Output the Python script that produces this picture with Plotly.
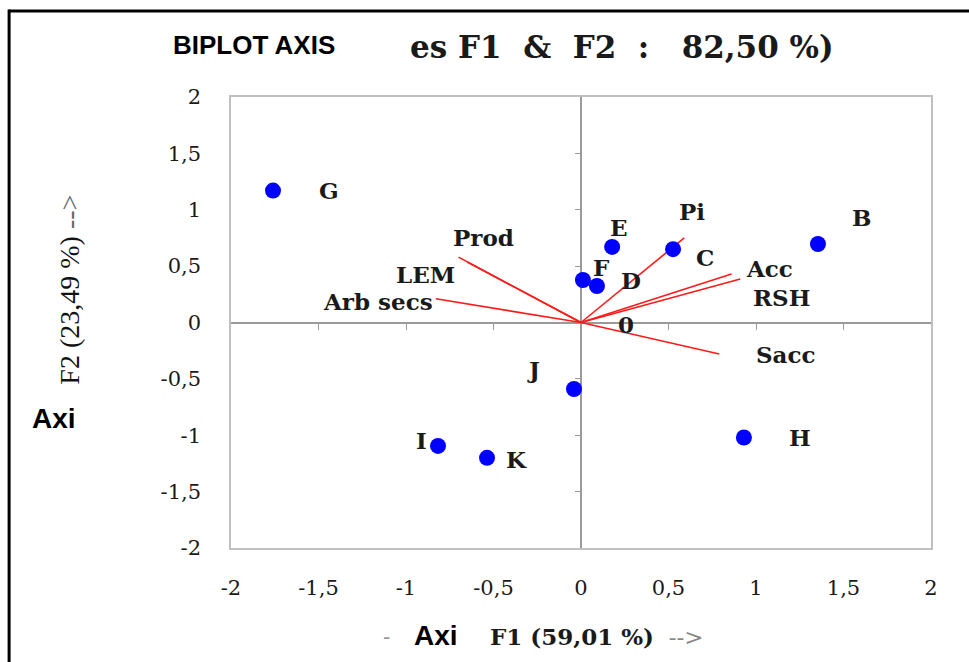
import plotly.graph_objects as go

# ---- data ----
obs_names = ["G", "E", "C", "B", "F", "D", "J", "I", "K", "H"]
obs_f1 = [-1.76, 0.178, 0.526, 1.354, 0.011, 0.091, -0.04, -0.817, -0.537, 0.931]
obs_f2 = [1.17, 0.67, 0.65, 0.696, 0.377, 0.324, -0.59, -1.095, -1.20, -1.02]

var_names = ["Prod", "LEM", "Arb secs", "Pi", "Acc", "RSH", "Sacc"]
var_f1 = [-0.70, -0.65, -0.83, 0.59, 0.86, 0.91, 0.79]
var_f2 = [0.58, 0.536, 0.21, 0.75, 0.43, 0.385, -0.28]

tick_vals = [-2, -1.5, -1, -0.5, 0, 0.5, 1, 1.5, 2]
tick_text = ["-2", "-1,5", "-1", "-0,5", "0", "0,5", "1", "1,5", "2"]
inner_tick_vals = [-1.5, -1, -0.5, 0.5, 1, 1.5]

# label offsets in pixels (style)
obs_label_shift = {
    "G": (56, 0, "center"), "E": (7, 19, "center"), "C": (32, -8, "center"),
    "B": (44, 27, "center"), "F": (19, 12, "center"), "D": (34, 5, "center"),
    "J": (-41, 20, "center"), "I": (-17, 5, "center"), "K": (29, -2, "center"),
    "H": (56, 0, "center"),
}
var_label_shift = {
    "Prod": (25, 20, "center"), "LEM": (-42, -12, "center"),
    "Arb secs": (-2, -3, "right"), "Pi": (8, 26, "center"),
    "Acc": (13, 6, "left"), "RSH": (12, -18, "left"), "Sacc": (36, 0, "left"),
}

SERIF = "DejaVu Serif"
SANS = "Liberation Sans, Arial, sans-serif"
NB = "\u00a0"

fig = go.Figure()

# variable vectors
vx, vy = [], []
for a, b in zip(var_f1, var_f2):
    vx += [0, a, None]
    vy += [0, b, None]
fig.add_trace(go.Scatter(x=vx, y=vy, mode="lines",
                         line=dict(color="#ff1a1a", width=1.6),
                         hoverinfo="skip", showlegend=False))

# observations
fig.add_trace(go.Scatter(x=obs_f1, y=obs_f2, mode="markers",
                         marker=dict(color="#0000ff", size=16),
                         text=obs_names, showlegend=False))

# dummy trace to host inner tick axes
fig.add_trace(go.Scatter(x=[], y=[], xaxis="x2", yaxis="y2",
                         showlegend=False, hoverinfo="skip"))

annotations = []
lab_font = dict(family=SERIF, size=23, color="#1a1a1a")
for n, a, b in zip(obs_names, obs_f1, obs_f2):
    dx, dy, anc = obs_label_shift[n]
    annotations.append(dict(x=a, y=b, text="<b>%s</b>" % n, showarrow=False,
                            xshift=dx, yshift=dy, xanchor=anc, yanchor="middle",
                            font=lab_font, borderpad=0))
for n, a, b in zip(var_names, var_f1, var_f2):
    dx, dy, anc = var_label_shift[n]
    annotations.append(dict(x=a, y=b, text="<b>%s</b>" % n, showarrow=False,
                            xshift=dx, yshift=dy, xanchor=anc, yanchor="middle",
                            font=lab_font, borderpad=0))
# origin label
annotations.append(dict(x=0, y=0, text="<b>0</b>", showarrow=False,
                        xshift=45, yshift=-2, xanchor="center", yanchor="middle",
                        font=lab_font, borderpad=0))


def pa(x, y, text, font, xanchor="center", angle=0):
    return dict(xref="paper", yref="paper", x=x, y=y, text=text, showarrow=False,
                xanchor=xanchor, yanchor="middle", textangle=angle, font=font)


# titles
annotations += [
    pa(0.033, 1.115, "<b>BIPLOT AXIS</b>", dict(family=SANS, size=26, color="#000000")),
    pa(0.253, 1.111, "<b>es F1" + NB * 2 + "&" + NB * 2 + "F2" + NB * 2 + ":" + NB * 2 + " 82,50 %)</b>",
       dict(family=SERIF, size=31, color="#1a1a1a"), xanchor="left"),
    pa(-0.232, 0.572, "F2 (23,49 %) <span style='color:#666'>--></span>",
       dict(family="Liberation Serif", size=28, color="#111111"), angle=-90),
    pa(-0.253, 0.288, "<b>Axi</b>", dict(family=SANS, size=28, color="#000000")),
    pa(0.222, -0.197, "-", dict(family=SANS, size=22, color="#999999")),
    pa(0.293, -0.195, "<b>Axi</b>", dict(family=SANS, size=28, color="#000000")),
    pa(0.367, -0.197, "<b>F1 (59,01 %)</b>" + NB + " <span style='color:#888'>--></span>",
       dict(family=SERIF, size=23, color="#1a1a1a"), xanchor="left"),
]

shapes = [
    dict(type="line", xref="paper", yref="paper", x0=-0.317, x1=1.06, y0=1.1907, y1=1.1907,
         line=dict(color="#000000", width=3)),
    dict(type="line", xref="paper", yref="paper", x0=-0.317, x1=-0.317, y0=1.1940, y1=-0.26,
         line=dict(color="#000000", width=3)),
]

axis_common = dict(range=[-2, 2], tickvals=tick_vals, ticktext=tick_text,
                   showgrid=False, showline=True, mirror=True,
                   linecolor="#c0c0c0", linewidth=1.5, ticks="",
                   zeroline=True, zerolinecolor="#9a9a9a", zerolinewidth=1.5,
                   tickfont=dict(family=SERIF, size=21, color="#1a1a1a"),
                   fixedrange=True)

fig.update_layout(
    width=969, height=662,
    margin=dict(l=231, r=38, t=97, b=114),
    paper_bgcolor="white", plot_bgcolor="white",
    xaxis=dict(**axis_common, ticklabelstandoff=20),
    yaxis=dict(**axis_common, ticklabelstandoff=24),
    xaxis2=dict(overlaying="x", anchor="free", position=0.5, range=[-2, 2],
                tickvals=inner_tick_vals, ticks="outside", ticklen=6,
                tickcolor="#9a9a9a", tickwidth=1.2, showticklabels=False,
                showline=False, showgrid=False, zeroline=False, side="bottom"),
    yaxis2=dict(overlaying="y", anchor="free", position=0.5, range=[-2, 2],
                tickvals=inner_tick_vals, ticks="outside", ticklen=6,
                tickcolor="#9a9a9a", tickwidth=1.2, showticklabels=False,
                showline=False, showgrid=False, zeroline=False, side="left"),
    annotations=annotations,
    shapes=shapes,
    showlegend=False,
)

fig.write_html("out.html", config={"displayModeBar": False},
               post_script="document.body.style.margin='0';")
